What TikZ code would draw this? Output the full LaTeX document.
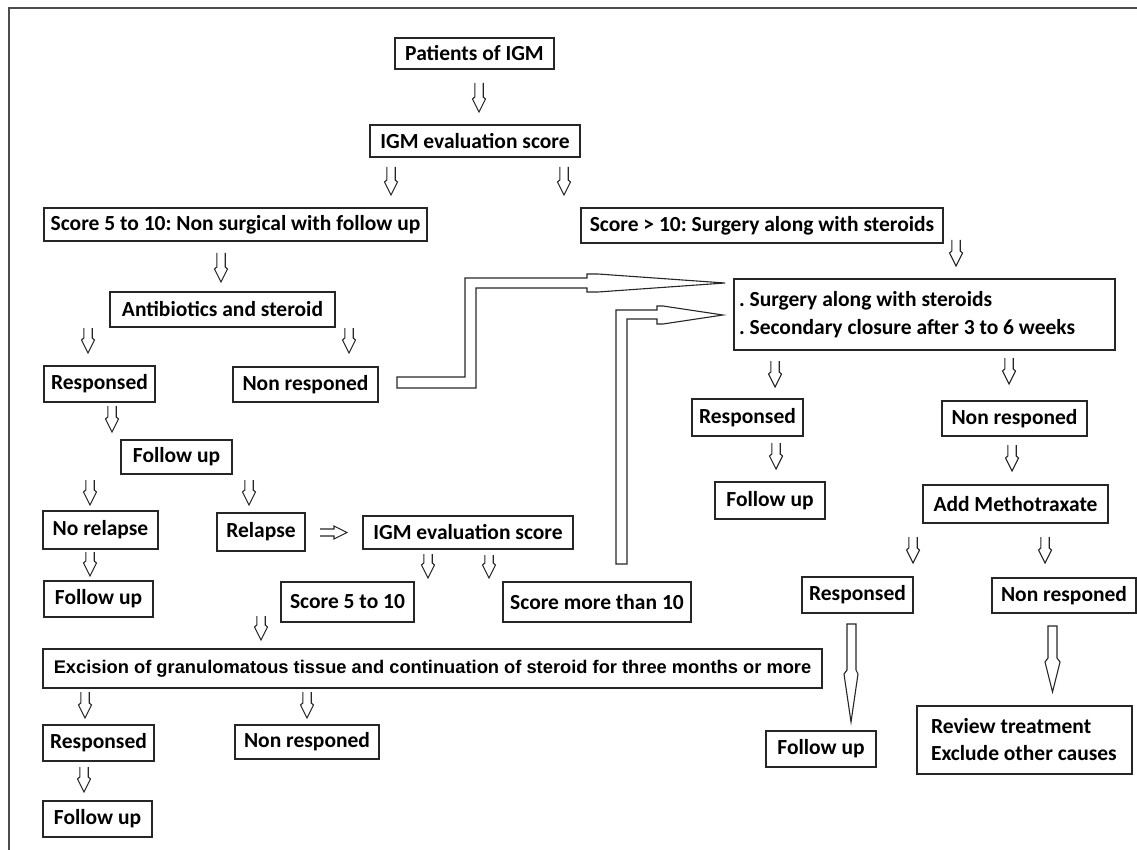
\documentclass[tikz,border=0pt]{standalone}
\usepackage{fontspec}
\setmainfont{Carlito}
\newfontfamily\arialfont{Liberation Sans}
\frenchspacing
\begin{document}
\begin{tikzpicture}[x=1pt,y=-1pt,
  box/.style={draw=black!85, line width=1.3pt, inner sep=0pt, text=black, font=\bfseries\fontsize{21.5}{27}\selectfont},
  harr/.style={draw=black!85, line width=1.1pt, line join=miter},
  frameline/.style={draw=black!70, line width=1.6pt}]
\useasboundingbox (0,0) rectangle (1137,850);
\newcommand\mybox[6]{\node[box, minimum width={(#4)-(#2)}, minimum height={(#5)-(#3)}] (#1) at ({((#2)+(#4))/2},{((#3)+(#5))/2}) {#6};}
\newcommand\mydarr[3]{\draw[harr] ({#1-4.2},{#2}) -- ({#1-4.2},{#3-15}) -- ({#1-6.5},{#3-13}) -- ({#1},{#3}) -- ({#1+6.5},{#3-13}) -- ({#1+4.2},{#3-15}) -- ({#1+4.2},{#2});}
% frame
\draw[frameline] (9,850) -- (9,8) -- (1137,8);
% left / centre column
\mybox{pat}{395}{38}{554}{69}{Patients of IGM}
\mybox{eval}{370}{125}{580}{157}{IGM evaluation score}
\mybox{sfive}{44}{208}{427}{241}{Score 5 to 10: Non surgical with follow up}
\mybox{sten}{581}{208}{943}{243}{Score > 10: Surgery along with steroids}
\mybox{abx}{110}{292}{335}{327}{Antibiotics and steroid}
\mybox{respa}{44}{366}{155}{402}{Responsed}
\mybox{nra}{233}{367}{378}{402}{Non responed}
\mybox{fua}{121}{440}{232}{474}{Follow up}
\mybox{norel}{43}{511}{158}{549}{No relapse}
\mybox{rel}{217}{513}{305}{551}{Relapse}
\mybox{evalb}{363}{516}{573}{549}{IGM evaluation score}
\mybox{fub}{44}{581}{153}{617}{Follow up}
\mybox{sfiveb}{281}{582}{414}{622}{Score 5 to 10}
\mybox{smt}{503}{582}{691}{622}{Score more than 10}
\mybox{exc}{43}{649}{822}{688}{\arialfont\fontsize{18.3}{22}\selectfont Excision of granulomatous tissue and continuation of steroid for three months or more}
\mybox{respb}{43}{725}{154}{761}{Responsed}
\mybox{nrb}{235}{725}{379}{759}{Non responed}
\mybox{fuc}{43}{801}{152}{837}{Follow up}
% right column
\node[box, font=\bfseries\fontsize{21.5}{28}\selectfont, minimum width=381, minimum height=71, text width=371, align=left] (surg) at (924.5,314.5) {\spaceskip=0pt\xspaceskip=0pt . Surgery along with steroids\\. Secondary closure after 3 to 6 weeks};
\mybox{respc}{692}{399}{803}{436}{Responsed}
\mybox{nrc}{942}{401}{1087}{436}{Non responed}
\mybox{fud}{715}{482}{825}{519}{Follow up}
\mybox{mtx}{923}{485}{1108}{523}{Add Methotraxate}
\mybox{respd}{802}{577}{913}{613}{Responsed}
\mybox{nrd}{992}{578}{1136}{613}{Non responed}
\mybox{fue}{766}{731}{876}{767}{Follow up}
\node[box, minimum width=215, minimum height=68, text width=187, align=left] (rev) at (1024.5,740) {\spaceskip=0pt\xspaceskip=0pt Review treatment\\Exclude other causes};
% small hollow arrows
\mydarr{479}{83}{112}
\mydarr{391}{167}{195}
\mydarr{564}{167}{195}
\mydarr{221}{253}{282}
\mydarr{956}{240}{266}
\mydarr{88}{328}{353}
\mydarr{349}{328}{353}
\mydarr{112}{406}{432}
\mydarr{90}{480}{505}
\mydarr{249}{480}{505}
\mydarr{90}{552}{576}
\mydarr{428}{554}{578}
\mydarr{489}{555}{578}
\mydarr{261}{616}{640}
\mydarr{85}{692}{718}
\mydarr{307}{692}{718}
\mydarr{84}{767}{792}
\mydarr{775}{361}{387}
\mydarr{1009}{358}{384}
\mydarr{776}{443}{469}
\mydarr{1012}{445}{471}
\mydarr{913}{537}{563}
\mydarr{1045}{537}{563}
% small right arrow Relapse -> IGM evaluation score
\draw[harr] (320,529) -- (334,529) -- (334,526) -- (347,532.5) -- (334,539) -- (334,536) -- (320,536);
% long arrows into the surgery box
\draw[harr] (725,283) -- (598,274) -- (587,274) -- (587,278) -- (465,278) -- (465,377) -- (397,377) -- (397,388) -- (476,388) -- (476,288) -- (587,288) -- (587,292) -- (598,292) -- cycle;
\draw[harr] (723,315) -- (663,306) -- (657,306) -- (657,310) -- (616,310) -- (616,564) -- (627,564) -- (627,319) -- (657,319) -- (657,324) -- (663,324) -- cycle;
% long vertical arrows
\draw[harr] (847,624) -- (847,670) -- (844,674) -- (851,722) -- (858,674) -- (856,670) -- (856,624) -- cycle;
\draw[harr] (1048,626) -- (1048,658) -- (1045,662) -- (1052.5,692) -- (1060,662) -- (1057,658) -- (1057,626) -- cycle;
\end{tikzpicture}
\end{document}
